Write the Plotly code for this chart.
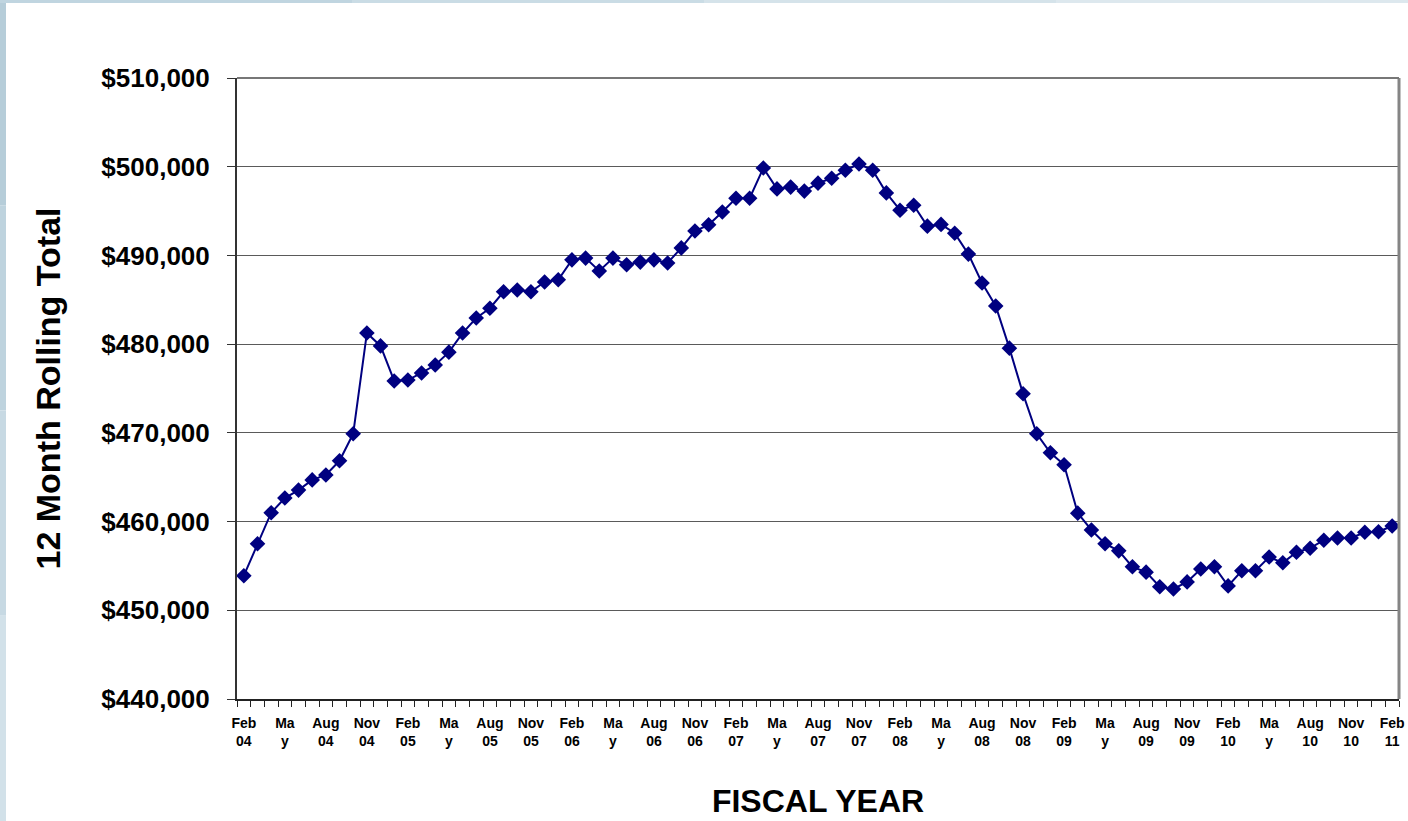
import plotly.graph_objects as go

# ---- data ----
month_names = ["Jan", "Feb", "Mar", "Apr", "May", "Jun",
               "Jul", "Aug", "Sep", "Oct", "Nov", "Dec"]
years = ["04", "05", "06", "07", "08", "09", "10", "11"]
months = [f"{m} {y}" for y in years for m in month_names]
months = months[1:months.index("Feb 11") + 1]   # Feb 04 .. Feb 11

rolling_total = [
    453900, 457500, 461000, 462650, 463550, 464700, 465250, 466850, 469900,
    481250, 479800, 475850, 475950, 476750, 477650, 479100, 481250, 482950,
    484050, 485900, 486100, 485900, 487000, 487250, 489500, 489700, 488250,
    489700, 488950, 489250, 489500, 489150, 490850, 492750, 493450, 494900,
    496450, 496450, 499850, 497500, 497700, 497250, 498150, 498700, 499600,
    500300, 499600, 497050, 495100, 495650, 493300, 493500, 492500, 490150,
    486900, 484300, 479550, 474400, 469900, 467750, 466400, 460950, 459050,
    457500, 456700, 454900, 454300, 452650, 452400, 453200, 454650, 454900,
    452750, 454450, 454450, 456000, 455350, 456550, 457000, 457900, 458150,
    458150, 458800, 458850, 459500,
]

tick_labels = [
    "Feb<br>04", "Ma<br>y", "Aug<br>04", "Nov<br>04",
    "Feb<br>05", "Ma<br>y", "Aug<br>05", "Nov<br>05",
    "Feb<br>06", "Ma<br>y", "Aug<br>06", "Nov<br>06",
    "Feb<br>07", "Ma<br>y", "Aug<br>07", "Nov<br>07",
    "Feb<br>08", "Ma<br>y", "Aug<br>08", "Nov<br>08",
    "Feb<br>09", "Ma<br>y", "Aug<br>09", "Nov<br>09",
    "Feb<br>10", "Ma<br>y", "Aug<br>10", "Nov<br>10",
    "Feb<br>11",
]
y_ticks = [440000, 450000, 460000, 470000, 480000, 490000, 500000, 510000]

x_idx = list(range(len(months)))
tick_pos = x_idx[::3]

FONT = "Liberation Sans, Arial, sans-serif"
NAVY = "#000080"

fig = go.Figure()
fig.add_trace(go.Scatter(
    x=x_idx, y=rolling_total, customdata=months,
    mode="lines+markers",
    line=dict(color=NAVY, width=2),
    marker=dict(symbol="diamond", size=12, color=NAVY),
    hovertemplate="%{customdata}: $%{y:,.0f}<extra></extra>",
    showlegend=False,
))

W, H = 1408, 821
L, R, T, B = 237, 9, 78, 122
pw, ph = W - L - R, H - T - B

def px_x(p):
    return (p - L) / pw

def px_y(p):
    return 1 - (p - T) / ph

shapes = [
    # right and top border of plot area
    dict(type="line", xref="paper", yref="paper", x0=1, x1=1, y0=0, y1=1,
         line=dict(color="#858585", width=3)),
    dict(type="line", xref="paper", yref="paper", x0=0, x1=1, y0=1, y1=1,
         line=dict(color="#777777", width=2)),
]
# decorative page frame strips (left and top)
strip_cols = ["#b6cdd9", "#bed3de", "#c7d9e3", "#d2e1e9"]
n = len(strip_cols)
for i, c in enumerate(strip_cols):
    shapes.append(dict(type="rect", xref="paper", yref="paper", layer="below",
                       x0=px_x(0), x1=px_x(6),
                       y0=px_y(H * (i + 1) / n), y1=px_y(H * i / n),
                       line=dict(width=0), fillcolor=c))
top_cols = ["#c0d5e0", "#cadce5", "#d5e3ea", "#dde8ee"]
for i, c in enumerate(top_cols):
    shapes.append(dict(type="rect", xref="paper", yref="paper", layer="below",
                       x0=px_x(W * i / n), x1=px_x(W * (i + 1) / n),
                       y0=px_y(3), y1=px_y(0),
                       line=dict(width=0), fillcolor=c))

fig.update_layout(
    width=W, height=H,
    margin=dict(l=L, r=R, t=T, b=B),
    paper_bgcolor="white", plot_bgcolor="white",
    font=dict(family=FONT, color="black"),
    shapes=shapes,
    xaxis=dict(
        automargin=False,
        range=[-0.5, len(months) - 0.5],
        tickmode="array", tickvals=tick_pos, ticktext=tick_labels,
        ticks="", tickfont=dict(family=FONT, size=14, weight="bold"),
        ticklabelstandoff=10,
        minor=dict(ticks="outside", tick0=-0.5, dtick=1, ticklen=6,
                   tickcolor="#222222", tickwidth=1, showgrid=False),
        showgrid=False, zeroline=False,
        showline=True, linecolor="#222222", linewidth=2,
        title=dict(text="FISCAL YEAR", standoff=42,
                   font=dict(family=FONT, size=32, weight="bold")),
    ),
    yaxis=dict(
        automargin=False,
        range=[440000, 510000],
        tickmode="array", tickvals=y_ticks,
        ticktext=[f"${v:,.0f}" for v in y_ticks],
        ticks="outside", ticklen=8, tickcolor="#333333", tickwidth=1,
        tickfont=dict(family=FONT, size=26, weight="bold"),
        ticklabelstandoff=12,
        showgrid=True, gridcolor="#5a5a5a", gridwidth=1,
        zeroline=False,
        showline=True, linecolor="#333333", linewidth=2,
        title=dict(text="12 Month Rolling Total", standoff=30,
                   font=dict(family=FONT, size=34, weight="bold")),
    ),
)

fig.write_html("out.html", config={"displayModeBar": False},
               post_script="document.body.style.margin='0';")
